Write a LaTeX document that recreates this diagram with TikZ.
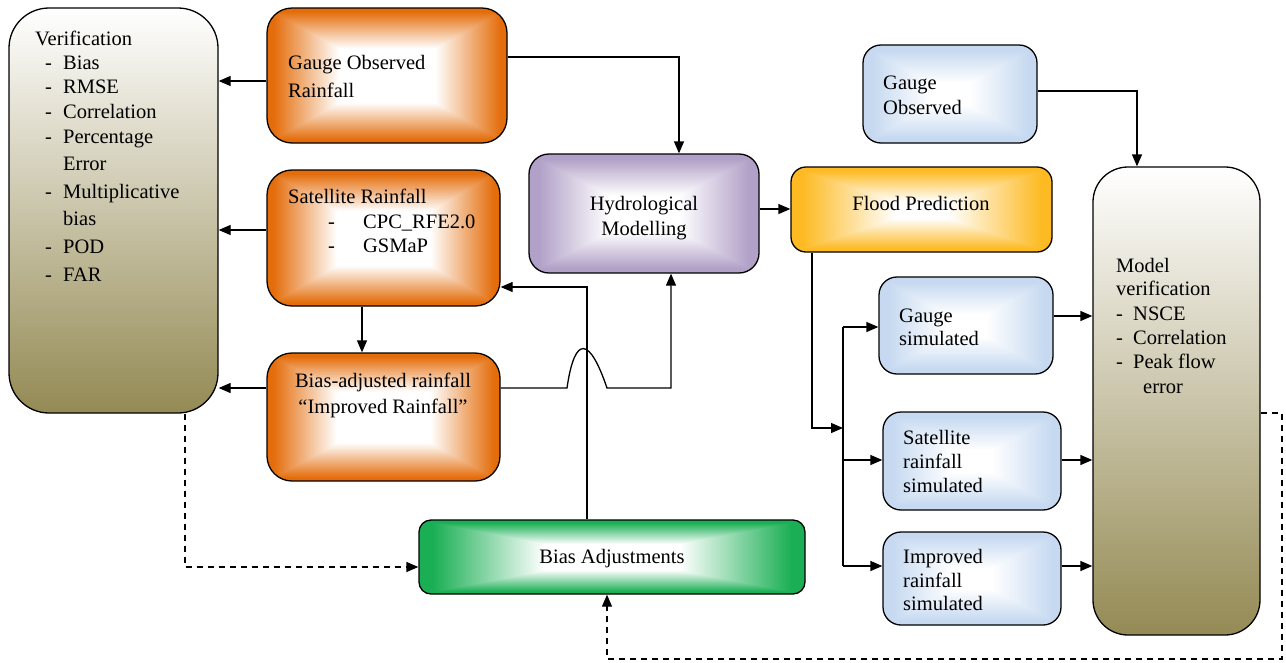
\documentclass[tikz,border=0pt]{standalone}
\usepackage{fontspec}
\setmainfont{Liberation Serif}
\usetikzlibrary{arrows.meta}
\definecolor{myolive}{HTML}{948A54}
\newcommand\mkrectshade[6]{\pgfdeclarefunctionalshading{#1}{\pgfpoint{-50bp}{-50bp}}{\pgfpoint{50bp}{50bp}}{}{abs exch abs 2 copy lt {exch} if pop 25 div #5 sub #6 div dup 0 lt {pop 0} if dup 1 gt {pop 1} if dup dup #2 mul 1 exch sub 3 1 roll #3 mul 1 exch sub exch #4 mul 1 exch sub}}
\mkrectshade{orrect}{0.106}{0.576}{0.961}{0.4}{0.55}
\mkrectshade{purect}{0.306}{0.373}{0.220}{0.3}{0.62}
\mkrectshade{gorect}{0.008}{0.271}{0.867}{0.2}{0.72}
\mkrectshade{blrect}{0.224}{0.149}{0.055}{0.22}{0.68}
\mkrectshade{grrect}{0.898}{0.314}{0.671}{0.35}{0.58}
\begin{document}
\begin{tikzpicture}[x=1pt,y=-1pt,
  bx/.style={draw=black, line width=1.3pt, inner sep=0pt},
  orbox/.style={bx, shading=orrect, rounded corners=25pt},
  vbox/.style={bx, top color=white, bottom color=myolive, rounded corners=#1},
  txt/.style={anchor=base west, inner sep=0pt, font=\fontsize{20.5}{24}\selectfont},
  ctxt/.style={anchor=base, inner sep=0pt, font=\fontsize{20.5}{24}\selectfont},
  arr/.style={line width=1.3pt, -{Triangle[length=12pt,width=10pt]}},
  darr/.style={line width=1.3pt, dash pattern=on 6pt off 5pt, -{Triangle[length=12pt,width=10pt]}}]
\useasboundingbox (0,0) rectangle (1286,662);

% boxes
\node[vbox=40pt, minimum width=209pt, minimum height=405pt] (ver) at (113.5,210.5) {};
\node[orbox, minimum width=240pt, minimum height=135pt] (gor) at (387,75.5) {};
\node[orbox, minimum width=233pt, minimum height=136pt] (sat) at (383.5,238) {};
\node[orbox, minimum width=233pt, minimum height=128pt] (bar) at (383.5,417) {};
\node[bx, shading=purect, rounded corners=20pt, minimum width=230pt, minimum height=119pt] (hyd) at (644,213.5) {};
\node[bx, shading=gorect, rounded corners=15pt, minimum width=261pt, minimum height=85pt] (fld) at (921.5,209.5) {};
\node[bx, shading=blrect, rounded corners=18pt, minimum width=174pt, minimum height=98pt] (gob) at (950,94) {};
\node[vbox=35pt, minimum width=167pt, minimum height=468pt] (mv) at (1176.5,401) {};
\node[bx, shading=blrect, rounded corners=18pt, minimum width=174pt, minimum height=97pt] (gsim) at (966,325.5) {};
\node[bx, shading=blrect, rounded corners=18pt, minimum width=178pt, minimum height=98pt] (ssim) at (972,461) {};
\node[bx, shading=blrect, rounded corners=18pt, minimum width=178pt, minimum height=93pt] (isim) at (972,578.5) {};
\node[bx, shading=grrect, rounded corners=12pt, minimum width=386pt, minimum height=74pt] (bad) at (612,557) {};

% texts
\node[txt] (v0) at (35,45) {Verification};
\node[txt] (v1) at (45,69) {\makebox[18pt][l]{-}Bias};
\node[txt] (v2) at (45,93) {\makebox[18pt][l]{-}RMSE};
\node[txt] (v3) at (45,118) {\makebox[18pt][l]{-}Correlation};
\node[txt] (v4) at (45,143) {\makebox[18pt][l]{-}Percentage};
\node[txt] (v5) at (63,170) {Error};
\node[txt] (v6) at (45,198) {\makebox[18pt][l]{-}Multiplicative};
\node[txt] (v7) at (63,225) {bias};
\node[txt] (v8) at (45,253) {\makebox[18pt][l]{-}POD};
\node[txt] (v9) at (45,281) {\makebox[18pt][l]{-}FAR};

\node[txt] (g1) at (288,69) {Gauge Observed};
\node[txt] (g2) at (288,97) {Rainfall};
\node[txt] (s1) at (288,203) {Satellite Rainfall};
\node[txt] (s2) at (328,228) {\makebox[35pt][l]{-}CPC\_RFE2.0};
\node[txt] (s3) at (328,252) {\makebox[35pt][l]{-}GSMaP};
\node[ctxt] (b1) at (383,387) {Bias-adjusted rainfall};
\node[ctxt] (b2) at (383,413) {“Improved Rainfall”};
\node[ctxt] (h1) at (644,210) {Hydrological};
\node[ctxt] (h2) at (644,235) {Modelling};
\node[ctxt] (f1) at (921,210) {Flood Prediction};
\node[txt] (o1) at (883,89) {Gauge};
\node[txt] (o2) at (883,114) {Observed};
\node[txt] (m1) at (1116,272) {Model};
\node[txt] (m2) at (1116,295) {verification};
\node[txt] (m3) at (1116,320) {\makebox[17pt][l]{-}NSCE};
\node[txt] (m4) at (1116,344) {\makebox[17pt][l]{-}Correlation};
\node[txt] (m5) at (1116,368) {\makebox[17pt][l]{-}Peak flow};
\node[txt] (m6) at (1143,393) {error};
\node[txt] (gs1) at (899,322) {Gauge};
\node[txt] (gs2) at (899,345) {simulated};
\node[txt] (ss1) at (903,444) {Satellite};
\node[txt] (ss2) at (903,468) {rainfall};
\node[txt] (ss3) at (903,492) {simulated};
\node[txt] (is1) at (903,563) {Improved};
\node[txt] (is2) at (903,587) {rainfall};
\node[txt] (is3) at (903,610) {simulated};
\node[ctxt] (ba1) at (612,563) {Bias Adjustments};

% connectors
\draw[arr] (gor.west |- 0,81) -- (ver.east |- 0,81);
\draw[arr] (sat.west |- 0,230) -- (ver.east |- 0,230);
\draw[arr] (bar.west |- 0,388) -- (ver.east |- 0,388);
\draw[arr] (gor.east |- 0,57) -| (hyd.north -| 679,0);
\draw[arr] (sat.south -| 362,0) -- (bar.north -| 362,0);
\draw[arr] (bar.east |- 0,388) -- (567,388) .. controls (575,333) and (590,338) .. (607,388) -- (671,388) -- (hyd.south -| 671,0);
\draw[arr] (bad.north -| 587,0) |- (sat.east |- 0,287);
\draw[arr] (hyd.east |- 0,209) -- (fld.west |- 0,209);
\coordinate (bt) at (843,327);
\coordinate (bm) at (843,460);
\coordinate (bb) at (843,566);
\coordinate (bj) at (843,428);
\draw[line width=1.3pt] (bt) -- (bb);
\draw[arr] (fld.south -| 812,0) |- (bj);
\draw[arr] (bt) -- (gsim.west |- bt);
\draw[arr] (bm) -- (ssim.west |- bm);
\draw[arr] (bb) -- (isim.west |- bb);
\draw[arr] (gsim.east |- 0,316) -- (mv.west |- 0,316);
\draw[arr] (ssim.east |- 0,460) -- (mv.west |- 0,460);
\draw[arr] (isim.east |- 0,566) -- (mv.west |- 0,566);
\draw[arr] (gob.east |- 0,91) -| (mv.north -| 1137,0);
\draw[darr] (ver.south -| 185,0) |- (bad.west |- 0,567);
\coordinate (dr1) at (1282,413);
\coordinate (dr2) at (1282,659);
\coordinate (dr3) at (607,659);
\draw[darr] (mv.east |- dr1) -- (dr1) -- (dr2) -- (dr3) -- (bad.south -| dr3);
\end{tikzpicture}
\end{document}
